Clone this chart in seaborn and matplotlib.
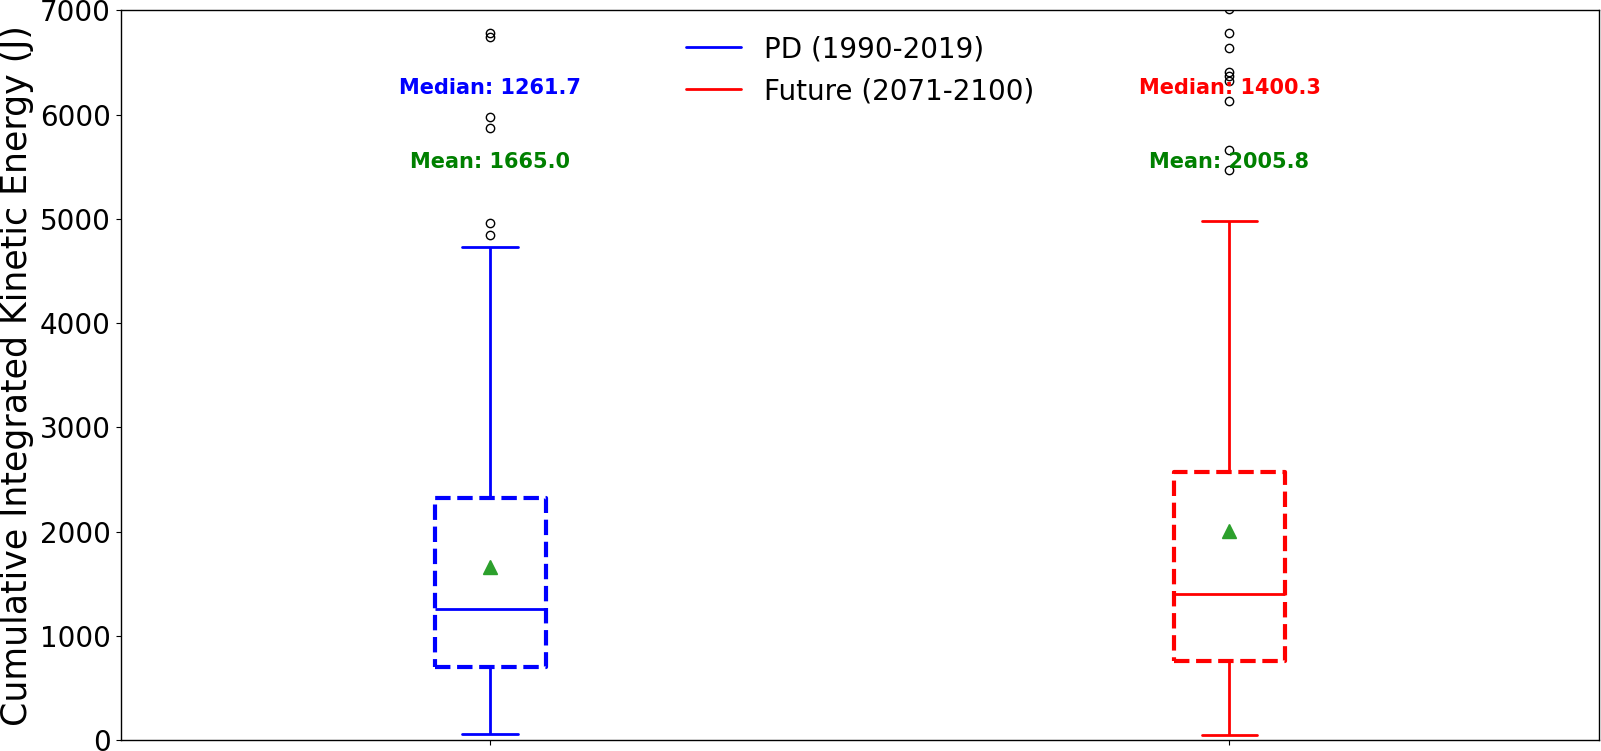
import numpy as np
import pandas as pd
import matplotlib
matplotlib.use("Agg")
import matplotlib.pyplot as plt
from matplotlib.lines import Line2D
import seaborn as sns

# =======================
# DATA
# =======================
periods = ["PD (1990-2019)", "Future (2071-2100)"]
box_colors = ["blue", "red"]

# present day, 101 values
pd_values = [
    59,
    110, 150, 185, 220, 250, 280, 310, 335, 360, 385, 410, 430,
    455, 475, 500, 520, 545, 565, 590, 610, 635, 655, 675, 690,
    706,
    725, 745, 770, 790, 810, 835, 860, 880, 905, 930, 950, 975,
    1000, 1025, 1045, 1070, 1095, 1115, 1140, 1160, 1185, 1205, 1225, 1245,
    1261.7,
    1290, 1320, 1355, 1390, 1420, 1455, 1490, 1525, 1560, 1600, 1640, 1680,
    1720, 1760, 1800, 1845, 1890, 1935, 1980, 2030, 2080, 2135, 2190, 2250,
    2320,
    2340, 2360, 2385, 2410, 2435, 2460, 2490, 2520, 2555, 2590, 2630, 2675,
    2725, 2785, 2860, 2960, 3120, 4246.3,
    4727,
    4845, 4963, 5868, 5979, 6746, 6779,
]

# future, 101 values
future_values = [
    55,
    100, 140, 180, 215, 250, 285, 315, 345, 375, 400, 425, 450,
    475, 500, 525, 550, 575, 600, 625, 650, 675, 700, 725, 745,
    764,
    785, 810, 835, 860, 885, 910, 940, 965, 990, 1020, 1045, 1075,
    1100, 1130, 1155, 1185, 1210, 1240, 1265, 1295, 1320, 1345, 1370, 1390,
    1400.3,
    1430, 1465, 1500, 1540, 1580, 1620, 1660, 1700, 1745, 1790, 1835, 1880,
    1925, 1975, 2025, 2075, 2125, 2180, 2235, 2290, 2350, 2410, 2470, 2530,
    2575,
    2680, 2790, 2900, 3010, 3120, 3230, 3340, 3450, 3560, 3670, 3790, 3920,
    4060, 4250, 4972.5,
    4979,
    5467, 5659, 6130, 6321, 6369, 6410, 6635, 6779, 7015,
]

median_text_y = 6250
mean_text_y = 5540

df = pd.DataFrame({
    "period": [periods[0]] * len(pd_values) + [periods[1]] * len(future_values),
    "value": pd_values + future_values,
})

# =======================
# PLOT
# =======================
sns.set_style("ticks")
plt.rcParams["font.family"] = ["DejaVu Sans"]
plt.rcParams["text.color"] = "black"
plt.rcParams["axes.labelcolor"] = "black"
plt.rcParams["xtick.color"] = "black"
plt.rcParams["ytick.color"] = "black"

fig, ax = plt.subplots(figsize=(16.01, 7.51), dpi=100)
fig.subplots_adjust(left=0.0753, right=0.9988, bottom=0.0143, top=0.9864)

for periodo, cor in zip(periods, box_colors):
    sub = df[df["period"] == periodo]
    sns.boxplot(
        data=sub, x="period", y="value", order=periods,
        color=cor, fill=False, width=0.15, linewidth=2,
        showmeans=True,
        meanprops=dict(marker="^", markerfacecolor="#2ca02c",
                       markeredgecolor="#2ca02c", markersize=10),
        boxprops=dict(linestyle="--", linewidth=3, color=cor),
        whiskerprops=dict(color=cor, linewidth=2),
        capprops=dict(color=cor, linewidth=2),
        medianprops=dict(color=cor, linewidth=2),
        flierprops=dict(marker="o", markerfacecolor="none",
                        markeredgecolor="black", markersize=6),
        ax=ax,
    )

# median / mean annotations
for i, (valores, cor) in enumerate(zip([pd_values, future_values], box_colors)):
    mediana = np.median(valores)
    media = np.mean(valores)
    ax.text(i, median_text_y, f"Median: {mediana:.1f}", color=cor,
            fontsize=15, fontweight="bold", ha="center", va="center")
    ax.text(i, mean_text_y, f"Mean: {media:.1f}", color="green",
            fontsize=15, fontweight="bold", ha="center", va="center")

ax.set_xlim(-0.5, 1.5)
ax.set_ylim(0, 7000)
ax.set_yticks(np.arange(0, 7001, 1000))
ax.set_xticks([0, 1])
ax.set_xticklabels(["", ""])
ax.set_xlabel("")
ax.set_ylabel("Cumulative Integrated Kinetic Energy (J)", fontsize=25)
ax.tick_params(axis="y", labelsize=20)
for s in ax.spines.values():
    s.set_linewidth(1.0)
    s.set_color("black")

handles = [Line2D([0], [0], color=c, lw=2) for c in box_colors]
ax.legend(handles, periods, loc="upper center", fontsize=20, frameon=False)

plt.savefig("out.png", dpi=100)
